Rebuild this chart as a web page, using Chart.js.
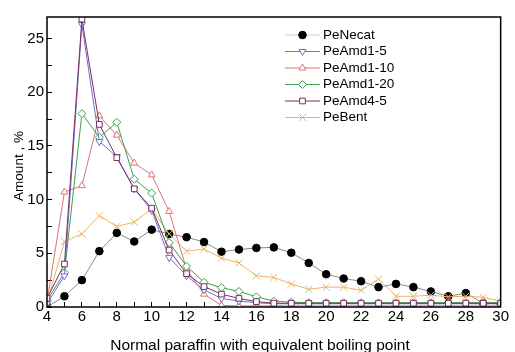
<!DOCTYPE html>
<html>
<head>
<meta charset="utf-8">
<title>Normal paraffin distribution</title>
<script src="https://cdn.jsdelivr.net/npm/chart.js@4.4.1/dist/chart.umd.min.js"></script>
<style>
  html, body { margin: 0; padding: 0; background: #fff; }
  canvas { display: block; }
</style>
</head>
<body>
<canvas id="chart" width="515" height="352"></canvas>
<script>
// carbon number of the normal paraffin with equivalent boiling point
const carbonNumbers = [4, 5, 6, 7, 8, 9, 10, 11, 12, 13, 14, 15, 16, 17, 18, 19, 20, 21, 22, 23, 24, 25, 26, 27, 28, 29, 30];

// amount, %
const peNecat   = [0, 1.0, 2.5, 5.2, 6.9, 6.1, 7.2, 6.8, 6.5, 6.05, 5.15, 5.35, 5.5, 5.55, 5.05, 4.1, 3.05, 2.65, 2.4, 1.85, 2.15, 1.85, 1.45, 1.0, 1.3, 0.35, 0.3];
const peAmd1_5  = [0.3, 2.9, 26.3, 15.4, 14.0, 11.0, 9.0, 4.6, 2.9, 1.6, 0.8, 0.55, 0.4, 0.3, 0.3, 0.3, 0.3, 0.3, 0.3, 0.3, 0.3, 0.3, 0.3, 0.3, 0.3, 0.3, 0.3];
const peAmd1_10 = [0.5, 10.7, 11.3, 17.8, 16.0, 13.4, 12.3, 8.9, 3.5, 1.2, 0.15, 0.1, 0.1, 0.1, 0.1, 0.1, 0.1, 0.1, 0.1, 0.1, 0.1, 0.1, 0.1, 0.1, 0.1, 0.1, 0.1];
const peAmd1_20 = [0.6, 3.2, 18.0, 15.8, 17.2, 11.9, 10.6, 6.0, 3.8, 2.3, 1.8, 1.45, 0.95, 0.55, 0.45, 0.4, 0.4, 0.4, 0.4, 0.4, 0.4, 0.4, 0.4, 0.4, 0.4, 0.4, 0.4];
const peAmd4_5  = [0.8, 4.0, 26.8, 17.0, 13.9, 11.0, 9.2, 5.3, 3.1, 1.9, 1.2, 0.8, 0.5, 0.35, 0.35, 0.35, 0.35, 0.35, 0.35, 0.35, 0.35, 0.35, 0.35, 0.35, 0.35, 0.35, 0.35];
const peBent    = [0.4, 6.1, 6.8, 8.5, 7.5, 7.9, 9.15, 6.8, 5.2, 5.4, 4.55, 4.1, 2.9, 2.75, 2.15, 1.65, 1.85, 1.85, 1.55, 2.6, 1.0, 1.0, 1.1, 0.95, 1.0, 0.9, 0.55];

// tick labels
const xTickLabels = [4, 6, 8, 10, 12, 14, 16, 18, 20, 22, 24, 26, 28, 30];
const yTickLabels = [0, 5, 10, 15, 20, 25];

const FONT = "'Liberation Sans', Arial, sans-serif";

function toPoints(values) {
    return values.map((v, i) => ({ x: carbonNumbers[i], y: v }));
}

function series(label, values, color, pointStyle, extra) {
    return Object.assign({
        label: label,
        data: toPoints(values),
        borderColor: color,
        borderWidth: 1,
        pointStyle: pointStyle,
        pointRadius: 4,
        pointBorderWidth: 1,
        pointBorderColor: color,
        pointBackgroundColor: '#fff',
        legendLine: color,
        tension: 0
    }, extra || {});
}

const datasets = [
    series('PeNecat', peNecat, '#8a8a8a', 'circle', {
        pointBackgroundColor: '#000', pointBorderColor: '#000', pointRadius: 3.8,
        legendLine: '#d0d0d0', order: 6
    }),
    series('PeAmd1-5', peAmd1_5, '#6f6fd6', 'triangle', { pointRotation: 180, order: 2 }),
    series('PeAmd1-10', peAmd1_10, '#e07272', 'triangle', { order: 4 }),
    series('PeAmd1-20', peAmd1_20, '#3f9f4c', 'rectRot', { order: 3 }),
    series('PeAmd4-5', peAmd4_5, '#7c2f5e', 'rect', { order: 1 }),
    series('PeBent', peBent, '#e9b468', 'crossRot', { pointRadius: 5, order: 5 })
];

// frame, legend and axis titles
const decorations = {
    id: 'decorations',
    afterDatasetsDraw(chart) {
        const ctx = chart.ctx;
        const a = chart.chartArea;
        ctx.save();

        ctx.strokeStyle = '#000';
        ctx.lineWidth = 1.5;
        ctx.strokeRect(a.left, a.top, a.right - a.left, a.bottom - a.top);

        // legend
        chart.data.datasets.forEach((ds, i) => {
            const y = 35 + i * 16.5;
            ctx.strokeStyle = ds.legendLine;
            ctx.lineWidth = 1;
            ctx.beginPath();
            ctx.moveTo(285, y);
            ctx.lineTo(320, y);
            ctx.stroke();

            ctx.fillStyle = ds.pointBackgroundColor;
            ctx.strokeStyle = ds.pointBorderColor;
            Chart.helpers.drawPoint(ctx, {
                pointStyle: ds.pointStyle,
                rotation: ds.pointRotation || 0,
                radius: ds.pointRadius,
                borderWidth: 1
            }, 302.5, y);

            ctx.fillStyle = '#000';
            ctx.font = '13.5px ' + FONT;
            ctx.textAlign = 'left';
            ctx.textBaseline = 'middle';
            ctx.fillText(ds.label, 323, y);
        });

        // axis titles
        ctx.fillStyle = '#000';
        ctx.font = '15.5px ' + FONT;
        ctx.textAlign = 'center';
        ctx.textBaseline = 'alphabetic';
        ctx.fillText('Normal paraffin with equivalent boiling point', 260, 349.5);

        ctx.translate(19, 166);
        ctx.rotate(-Math.PI / 2);
        ctx.font = '13.5px ' + FONT;
        ctx.textBaseline = 'middle';
        ctx.fillText('Amount , %', 0, 0);

        ctx.restore();
    }
};

new Chart(document.getElementById('chart'), {
    type: 'line',
    data: { datasets: datasets },
    plugins: [decorations],
    options: {
        responsive: false,
        animation: false,
        devicePixelRatio: 1,
        layout: { padding: { top: 13, right: 11, left: 0, bottom: 0 } },
        plugins: {
            legend: { display: false },
            tooltip: { enabled: false }
        },
        scales: {
            x: {
                type: 'linear',
                min: 4,
                max: 30,
                afterFit(scale) { scale.height = 45; },
                ticks: {
                    stepSize: 1,
                    autoSkip: false,
                    maxRotation: 0,
                    includeBounds: false,
                    padding: 6,
                    color: '#000',
                    font: { family: FONT, size: 15 },
                    callback: v => xTickLabels.includes(v) ? String(v) : ''
                },
                grid: { drawOnChartArea: false, tickLength: -5, tickColor: '#000', tickWidth: 1 },
                border: { display: false }
            },
            y: {
                type: 'linear',
                min: 0,
                max: 27,
                afterFit(scale) { scale.width = 47; },
                ticks: {
                    stepSize: 2.5,
                    includeBounds: false,
                    padding: 8,
                    color: '#000',
                    font: { family: FONT, size: 15 },
                    callback: v => yTickLabels.includes(v) ? String(v) : ''
                },
                grid: { drawOnChartArea: false, tickLength: -5, tickColor: '#000', tickWidth: 1 },
                border: { display: false }
            }
        }
    }
});
</script>
</body>
</html>
